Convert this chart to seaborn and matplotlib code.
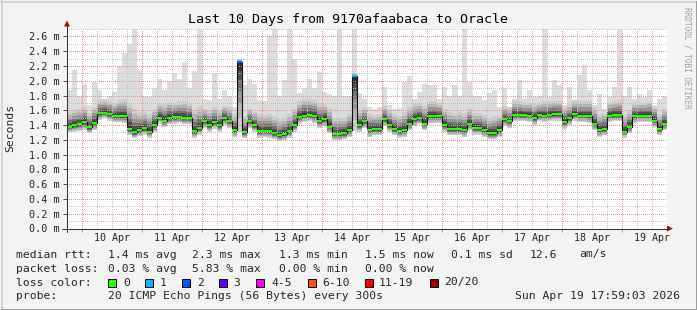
import numpy as np
import pandas as pd
import matplotlib
matplotlib.use("Agg")
import matplotlib.pyplot as plt
from matplotlib.lines import Line2D
from matplotlib.patches import Polygon, Rectangle
import seaborn as sns

# ---------------- data (2-hour bins, 120 bins = 10 days) ----------------
bin_hours = 2
median_ms = [1.38, 1.40, 1.41, 1.44, 1.37, 1.43, 1.56, 1.57, 1.55, 1.52, 1.52, 1.52, 1.35, 1.30, 1.33,
             1.36, 1.31, 1.40, 1.50, 1.46, 1.50, 1.51, 1.51, 1.50, 1.50, 1.32, 1.36, 1.45, 1.40, 1.44,
             1.40, 1.49, 1.45, 1.33, 2.26, 1.30, 1.45, 1.40, 1.32, 1.32, 1.32, 1.29, 1.26, 1.28, 1.32,
             1.40, 1.51, 1.53, 1.54, 1.52, 1.45, 1.48, 1.38, 1.28, 1.28, 1.29, 1.33, 2.06, 1.40, 1.45,
             1.33, 1.35, 1.35, 1.48, 1.40, 1.35, 1.32, 1.33, 1.42, 1.48, 1.50, 1.42, 1.52, 1.52, 1.52,
             1.40, 1.35, 1.35, 1.35, 1.33, 1.42, 1.36, 1.36, 1.33, 1.29, 1.29, 1.33, 1.48, 1.45, 1.54,
             1.54, 1.54, 1.53, 1.50, 1.54, 1.53, 1.54, 1.55, 1.55, 1.44, 1.49, 1.55, 1.53, 1.53, 1.52,
             1.42, 1.33, 1.35, 1.53, 1.54, 1.54, 1.31, 1.38, 1.52, 1.53, 1.53, 1.53, 1.46, 1.35, 1.42]
smoke_lo_ms = [1.30, 1.31, 1.32, 1.34, 1.29, 1.33, 1.47, 1.49, 1.46, 1.44, 1.44, 1.43, 1.26, 1.22, 1.25,
               1.27, 1.23, 1.30, 1.42, 1.37, 1.41, 1.42, 1.43, 1.41, 1.41, 1.23, 1.27, 1.36, 1.31, 1.35,
               1.31, 1.40, 1.36, 1.24, 1.30, 1.22, 1.36, 1.31, 1.23, 1.24, 1.23, 1.21, 1.18, 1.20, 1.23,
               1.31, 1.42, 1.44, 1.45, 1.43, 1.36, 1.39, 1.29, 1.20, 1.20, 1.21, 1.24, 1.32, 1.31, 1.36,
               1.24, 1.26, 1.26, 1.39, 1.31, 1.26, 1.23, 1.24, 1.33, 1.39, 1.41, 1.33, 1.43, 1.43, 1.43,
               1.31, 1.26, 1.26, 1.26, 1.24, 1.33, 1.27, 1.27, 1.24, 1.21, 1.21, 1.24, 1.39, 1.36, 1.45,
               1.45, 1.45, 1.44, 1.40, 1.45, 1.44, 1.45, 1.46, 1.46, 1.35, 1.40, 1.46, 1.44, 1.44, 1.43,
               1.33, 1.24, 1.26, 1.44, 1.45, 1.45, 1.23, 1.29, 1.43, 1.44, 1.44, 1.44, 1.37, 1.26, 1.33]
smoke_hi_ms = [1.58, 1.60, 1.62, 1.64, 1.57, 1.65, 1.74, 1.75, 1.72, 1.70, 1.74, 1.76, 1.70, 1.62, 1.58,
               1.58, 1.55, 1.62, 1.70, 1.68, 1.71, 1.70, 1.72, 1.73, 1.70, 1.60, 1.64, 1.62, 1.60, 1.65,
               1.60, 1.66, 1.64, 1.55, 2.28, 1.52, 1.62, 1.58, 1.55, 1.54, 1.55, 1.52, 1.48, 1.50, 1.55,
               1.62, 1.72, 1.76, 1.76, 1.74, 1.70, 1.68, 1.62, 1.50, 1.50, 1.50, 1.55, 2.10, 1.60, 1.64,
               1.55, 1.54, 1.55, 1.66, 1.60, 1.55, 1.52, 1.58, 1.64, 1.68, 1.70, 1.66, 1.72, 1.72, 1.70,
               1.62, 1.58, 1.57, 1.58, 1.56, 1.62, 1.57, 1.56, 1.54, 1.50, 1.52, 1.54, 1.66, 1.64, 1.72,
               1.72, 1.70, 1.70, 1.68, 1.70, 1.72, 1.72, 1.73, 1.72, 1.64, 1.68, 1.74, 1.72, 1.72, 1.72,
               1.64, 1.55, 1.56, 1.70, 1.72, 1.74, 1.54, 1.60, 1.70, 1.70, 1.70, 1.72, 1.66, 1.55, 1.62]
max_ms = [1.87, 2.14, 1.80, 1.96, 1.67, 1.99, 1.88, 1.76, 1.80, 1.85, 2.20, 2.37, 2.50, 2.71, 2.14,
          1.80, 1.78, 1.90, 2.03, 1.87, 2.00, 2.10, 2.03, 2.26, 1.90, 2.13, 2.71, 1.76, 1.74, 2.10,
          1.76, 1.87, 1.80, 1.65, 2.30, 1.94, 2.03, 1.96, 1.74, 1.72, 2.60, 2.71, 1.80, 2.01, 2.71,
          2.30, 1.83, 1.90, 2.03, 1.90, 2.12, 1.85, 1.82, 1.80, 2.71, 1.80, 1.80, 2.71, 1.83, 1.76,
          1.65, 1.62, 1.65, 1.92, 1.67, 1.62, 1.63, 1.99, 2.07, 1.76, 1.85, 1.96, 1.94, 1.94, 1.76,
          1.92, 1.80, 1.94, 1.80, 2.71, 1.99, 1.80, 1.80, 1.74, 1.83, 1.87, 1.65, 1.90, 1.65, 1.76,
          2.01, 1.76, 1.88, 1.78, 1.80, 2.71, 1.78, 2.01, 1.94, 1.67, 1.92, 1.74, 2.08, 2.22, 1.87,
          1.67, 1.82, 1.62, 1.78, 1.92, 2.71, 1.80, 1.92, 1.76, 1.82, 1.78, 1.87, 1.60, 1.76, 1.80]
loss_events = {34: 2, 57: 1}   # bin index -> lost pings (all other bins 0)

day_labels = ["10 Apr", "11 Apr", "12 Apr", "13 Apr", "14 Apr",
              "15 Apr", "16 Apr", "17 Apr", "18 Apr", "19 Apr"]
ytick_values = [0.0, 0.2, 0.4, 0.6, 0.8, 1.0, 1.2, 1.4, 1.6, 1.8, 2.0, 2.2, 2.4, 2.6]
loss_labels = ["0", "1", "2", "3", "4-5", "6-10", "11-19", "20/20"]
loss_colors = ["#26ff00", "#00b8ff", "#0059ff", "#5e00ff", "#ff00ff", "#ff5500", "#ff0000", "#a00000"]
loss_color_of = {0: 0, 1: 1, 2: 2, 3: 3}

title = "Last 10 Days from 9170afaabaca to Oracle"
stats_rtt = ["median rtt:", "1.4 ms avg", "2.3 ms max", "1.3 ms min", "1.5 ms now", "0.1 ms sd", "12.6", "am/s"]
stats_loss = ["packet loss:", "0.03 % avg", "5.83 % max", "0.00 % min", "0.00 % now"]
probe_text = ["probe:", "20 ICMP Echo Pings (56 Bytes) every 300s", "Sun Apr 19 17:59:03 2026"]

# ---------------- figure ----------------
sns.set_style("white")
plt.rcParams["font.family"] = ["DejaVu Sans Mono"]
W, H = 697, 310
fig = plt.figure(figsize=(W / 100, H / 100), dpi=100, facecolor="#f3f3f3")

def fx(x):
    return x / W

def fy(y):
    return 1 - y / H

def hline_px(xa, xb, y, col):
    fig.add_artist(Line2D([fx(xa), fx(xb)], [fy(y), fy(y)], transform=fig.transFigure,
                          color=col, lw=0.72, antialiased=False))

def vline_px(x, ya, yb, col):
    fig.add_artist(Line2D([fx(x), fx(x)], [fy(ya), fy(yb)], transform=fig.transFigure,
                          color=col, lw=0.72, antialiased=False))

# 3D frame of the image
hline_px(0, 697, 0.5, "#d6d6d6")
hline_px(0, 697, 1.5, "#d6d6d6")
vline_px(0.5, 0, 310, "#d6d6d6")
vline_px(1.5, 0, 310, "#d6d6d6")
hline_px(0, 697, 309.5, "#9c9c9c")
hline_px(1, 697, 308.5, "#9c9c9c")
vline_px(696.5, 0, 310, "#9c9c9c")
vline_px(695.5, 1, 310, "#9c9c9c")

x0, x1, ybot, ytop = 66.5, 666.5, 228.5, 28.5
ax = fig.add_axes([fx(x0), fy(ybot), fx(x1 - x0), (ybot - ytop) / H])
ax.set_facecolor("white")
top_val = (ybot - ytop) / 73.85
ax.set_xlim(0, 240)
ax.set_ylim(0, top_val)
for s in ax.spines.values():
    s.set_visible(False)

n = len(median_ms)
t = np.arange(n) * bin_hours
t_e = np.append(t, n * bin_hours)
med = np.array(median_ms)
lo = np.array(smoke_lo_ms)
hi = np.array(smoke_hi_ms)
mx = np.array(max_ms)
med_e = np.append(med, med[-1])
lo_e = np.append(lo, lo[-1])
hi_e = np.append(hi, hi[-1])
mx_e = np.append(mx, mx[-1])

# smoke: outer light gray (max ping), then darker bands toward median
ax.fill_between(t_e, lo_e, mx_e, step="post", color="#dcdcdc", lw=0, zorder=1)
for f, c in [(1.0, "#cdcdcd"), (0.8, "#b4b4b4"), (0.6, "#969696"), (0.42, "#747474"),
             (0.26, "#505050"), (0.12, "#303030")]:
    ax.fill_between(t_e, med_e + (lo_e - med_e) * f, med_e + (hi_e - med_e) * f,
                    step="post", color=c, lw=0, zorder=2)

# grid (dotted, drawn over the smoke)
dot = (0, (1, 2))
for k in range(1, 28):
    v = k / 10
    major = (k % 2 == 0)
    ax.axhline(v, color="#e49090" if major else "#c4c4c4", lw=0.72, ls=dot, zorder=3, antialiased=False)
for h in range(6, 241, 6):
    major = ((h - 6) % 24 == 0)
    ax.axvline(h, color="#e49090" if major else "#c4c4c4", lw=0.72, ls=dot, zorder=3, antialiased=False)

# median: black step line + loss-coloured segments
df = pd.DataFrame({"hour": t_e, "median": med_e})
sns.lineplot(data=df, x="hour", y="median", drawstyle="steps-post", color="#111111",
             lw=0.8, ax=ax, zorder=5, estimator=None)
seg_cols = [loss_colors[loss_color_of[loss_events.get(i, 0)]] for i in range(n)]
ax.hlines(med, t, t + bin_hours, colors=seg_cols, lw=1.6, zorder=6)

# ticks & labels
ax.set_xlabel("")
ax.set_ylabel("")
ax.set_yticks(ytick_values, labels=[f"{v:.1f} m" for v in ytick_values])
ax.tick_params(axis="y", length=3, width=0.72, color="#555555", pad=1.8, labelsize=7.3, left=True)
ax.set_xticks([18 + 24 * i for i in range(len(day_labels))], labels=day_labels)
ax.set_xticks([6 + 24 * i for i in range(len(day_labels))], minor=True)
ax.tick_params(axis="x", which="major", length=0, pad=3.2, labelsize=7.2)
ax.tick_params(axis="x", which="minor", length=2.2, width=0.72, color="#e07070", bottom=True)
ax.grid(False)

# axis lines with arrows
ax_col = "#333333"
arr_col = "#9b1111"
fig.add_artist(Line2D([fx(62), fx(669)], [fy(228.5), fy(228.5)], transform=fig.transFigure, color=ax_col, lw=0.75))
fig.add_artist(Line2D([fx(67), fx(67)], [fy(232), fy(26)], transform=fig.transFigure, color=ax_col, lw=0.75))
fig.add_artist(Polygon([(fx(673), fy(228.5)), (fx(667), fy(225.5)), (fx(667), fy(231.5))],
                       closed=True, transform=fig.transFigure, color=arr_col, lw=0))
fig.add_artist(Polygon([(fx(67), fy(20.5)), (fx(64), fy(26.5)), (fx(70), fy(26.5))],
                       closed=True, transform=fig.transFigure, color=arr_col, lw=0))

# texts
fig.text(fx(347.5), fy(19), title, ha="center", va="center", fontsize=9.6, color="#000000")
fig.text(fx(10), fy(128), "Seconds", rotation=90, ha="center", va="center", fontsize=8.2)
fig.text(fx(687), fy(58), "RRDTOOL / TOBI OETIKER", rotation=270, ha="center", va="center",
         fontsize=5.6, color="#a0a0a0")

fs = 8.2
rtt_x = [16, 107.5, 192, 279, 365, 451, 530, 579]
for s, x in zip(stats_rtt, rtt_x):
    fig.text(fx(x), fy(254.5), s, ha="left", va="center", fontsize=fs)
loss_x = [16, 107.5, 192, 279, 365]
for s, x in zip(stats_loss, loss_x):
    fig.text(fx(x), fy(268.5), s, ha="left", va="center", fontsize=fs)
fig.text(fx(16), fy(282.5), "loss color:", ha="left", va="center", fontsize=fs)
box_x = [108, 145, 182, 219, 256, 307.5, 365, 430]
lab_x = [123.5, 160, 197, 233, 271, 322, 379, 444]
for c, lab, bx, lx in zip(loss_colors, loss_labels, box_x, lab_x):
    fig.add_artist(Rectangle((fx(bx), fy(286.5)), 8 / W, 8 / H, transform=fig.transFigure,
                             facecolor=c, edgecolor="#000000", lw=0.72))
    fig.text(fx(lx), fy(282.5), lab, ha="left", va="center", fontsize=fs)
fig.text(fx(16), fy(296), probe_text[0], ha="left", va="center", fontsize=fs)
fig.text(fx(107.5), fy(296), probe_text[1], ha="left", va="center", fontsize=fs)
fig.text(fx(680), fy(296), probe_text[2], ha="right", va="center", fontsize=fs)

fig.savefig("out.png", dpi=100, facecolor=fig.get_facecolor())
